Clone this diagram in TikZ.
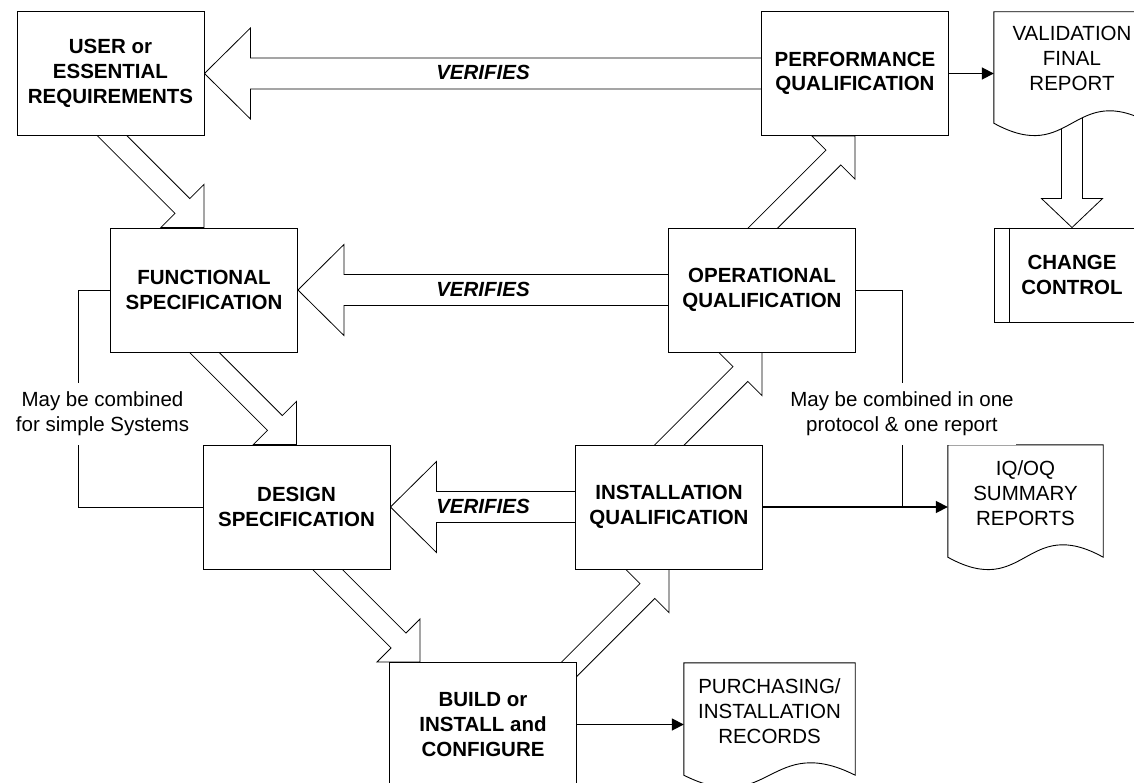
\documentclass[tikz,border=0pt]{standalone}
\usepackage{fontspec}
\setmainfont{Liberation Sans}
\usetikzlibrary{calc,arrows.meta}
\pgfdeclarelayer{bg}
\pgfsetlayers{bg,main}
% #1 tail, #2 tip, #3 shaft half width, #4 head half width, #5 head length
\newcommand\fatarrow[5]{%
  \coordinate (fatA) at #1;
  \coordinate (fatB) at #2;
  \coordinate (fatH) at ($(fatB)!#5!(fatA)$);
  \draw[fatline] ($(fatA)!#3!90:(fatB)$) -- ($(fatH)!#3!90:(fatB)$) -- ($(fatH)!#4!90:(fatB)$) -- (fatB)
    -- ($(fatH)!#4!-90:(fatB)$) -- ($(fatH)!#3!-90:(fatB)$) -- ($(fatA)!#3!-90:(fatB)$) -- cycle;}
\newcommand\docoutline[1]{%
  \draw[docline] (#1.south west) -- (#1.north west) -- (#1.north east) -- (#1.south east)
    .. controls ($(#1.south)+(0,-43)$) and ($(#1.south)+(0,43)$) .. (#1.south west) -- cycle;}
\tikzset{
  box/.style={draw, fill=white, line width=0.9pt, minimum width=187pt, minimum height=124pt,
    inner sep=0pt, align=center, font=\bfseries\fontsize{20.5}{24.7}\selectfont},
  docframe/.style={draw=none, minimum width=#1, minimum height=112pt, inner sep=0pt},
  doctext/.style={align=center, inner sep=0pt, font=\fontsize{20.5}{24.7}\selectfont},
  docline/.style={draw, fill=white, line width=0.9pt},
  fatline/.style={draw, fill=white, line width=0.8pt},
  conn/.style={line width=1.7pt, -{Triangle[length=12pt,width=12pt]}},
  bracketline/.style={line width=0.9pt},
  note/.style={fill=white, align=center, inner xsep=2pt, inner ysep=0pt, minimum height=62pt,
    font=\fontsize{20.5}{24.7}\selectfont},
  verif/.style={font=\bfseries\itshape\fontsize{20.5}{24.7}\selectfont, inner sep=0pt},
}
\begin{document}
\begin{tikzpicture}[x=1pt,y=-1pt]
\useasboundingbox (0,0) rectangle (1134,783);
\clip (0,0) rectangle (1134,783);
% process boxes
\node[box] (user) at (110.5,73.5) {USER or\\ESSENTIAL\\REQUIREMENTS};
\node[box] (pq) at (855,73.5) {PERFORMANCE\\QUALIFICATION};
\node[box] (fs) at (204,290) {FUNCTIONAL\\SPECIFICATION};
\node[box] (oq) at (762,290) {OPERATIONAL\\QUALIFICATION};
\node[box] (ds) at (296.5,507) {DESIGN\\SPECIFICATION};
\node[box] (iq) at (669,507) {INSTALLATION\\QUALIFICATION};
\node[box] (build) at (483,724.5) {BUILD or\\INSTALL and\\CONFIGURE};
\node[box, minimum width=156pt, minimum height=94pt] (cc) at (1072,275) {CHANGE\\CONTROL};
\draw[bracketline] ($(cc.north west)+(16,0)$) -- ($(cc.south west)+(16,0)$);
\draw[bracketline] ($(cc.north east)+(-16,0)$) -- ($(cc.south east)+(-16,0)$);
% documents
\node[docframe=156pt, minimum height=111pt] (vfr) at (1072,67.5) {};
\docoutline{vfr}
\node[doctext] (vfrt) at ($(vfr.center)+(0,-9)$) {VALIDATION\\FINAL\\REPORT};
\node[docframe=155pt] (iqoq) at (1025.5,501) {};
\docoutline{iqoq}
\node[doctext] (iqoqt) at ($(iqoq.center)+(0,-8)$) {IQ/OQ\\SUMMARY\\REPORTS};
\node[docframe=171pt] (purch) at (769.5,719) {};
\docoutline{purch}
\node[doctext] (purcht) at ($(purch.center)+(0,-8)$) {PURCHASING/\\INSTALLATION\\RECORDS};
% connectors
\draw[conn] (pq.east) -- (pq.east -| vfr.west);
\draw[conn] (iq.east) -- (iq.east -| iqoq.west);
\draw[conn] (build.east) -- (build.east -| purch.west);
\coordinate (j) at ($(iq.east)+(139,0)$);
\begin{pgfonlayer}{bg}
\fatarrow{(pq.center)}{(user.east)}{15.5pt}{45.5pt}{46pt}
\fatarrow{(oq.center)}{(fs.east)}{15.5pt}{45.5pt}{46pt}
\fatarrow{(iq.center)}{(ds.east)}{15.5pt}{45.5pt}{46pt}
\fatarrow{($(fs.north)+(-110,-110)$)}{(fs.north)}{10.5pt}{30.5pt}{30.5pt}
\fatarrow{($(ds.north)+(-110,-110)$)}{(ds.north)}{10.5pt}{30.5pt}{30.5pt}
\coordinate (bt) at ($(build.north west)+(31,0)$);
\fatarrow{($(bt)+(-110,-110)$)}{(bt)}{10.5pt}{30.5pt}{30.5pt}
\fatarrow{($(iq.south)+(-110,110)$)}{(iq.south)}{10.5pt}{30.5pt}{30.5pt}
\fatarrow{($(oq.south)+(-110,110)$)}{(oq.south)}{10.5pt}{30.5pt}{30.5pt}
\fatarrow{($(pq.south)+(-110,110)$)}{(pq.south)}{10.5pt}{30.5pt}{30.5pt}
\fatarrow{($(cc.north)+(0,-128)$)}{(cc.north)}{10.5pt}{30.5pt}{29pt}
\draw[bracketline] (fs.west) -- ++(-32,0) |- (ds.west);
\draw[bracketline] (oq.east) -| (j);
\end{pgfonlayer}
% labels
\node[note] (n1) at (102.5,414) {May be combined\\for simple Systems};
\node[note] (n2) at ($(j)+(0,-93)$) {May be combined in one\\protocol \& one report};
\node[verif] (v1) at (483,72) {VERIFIES};
\node[verif] (v2) at (483,289) {VERIFIES};
\node[verif] (v3) at (483,506) {VERIFIES};
\end{tikzpicture}
\end{document}
